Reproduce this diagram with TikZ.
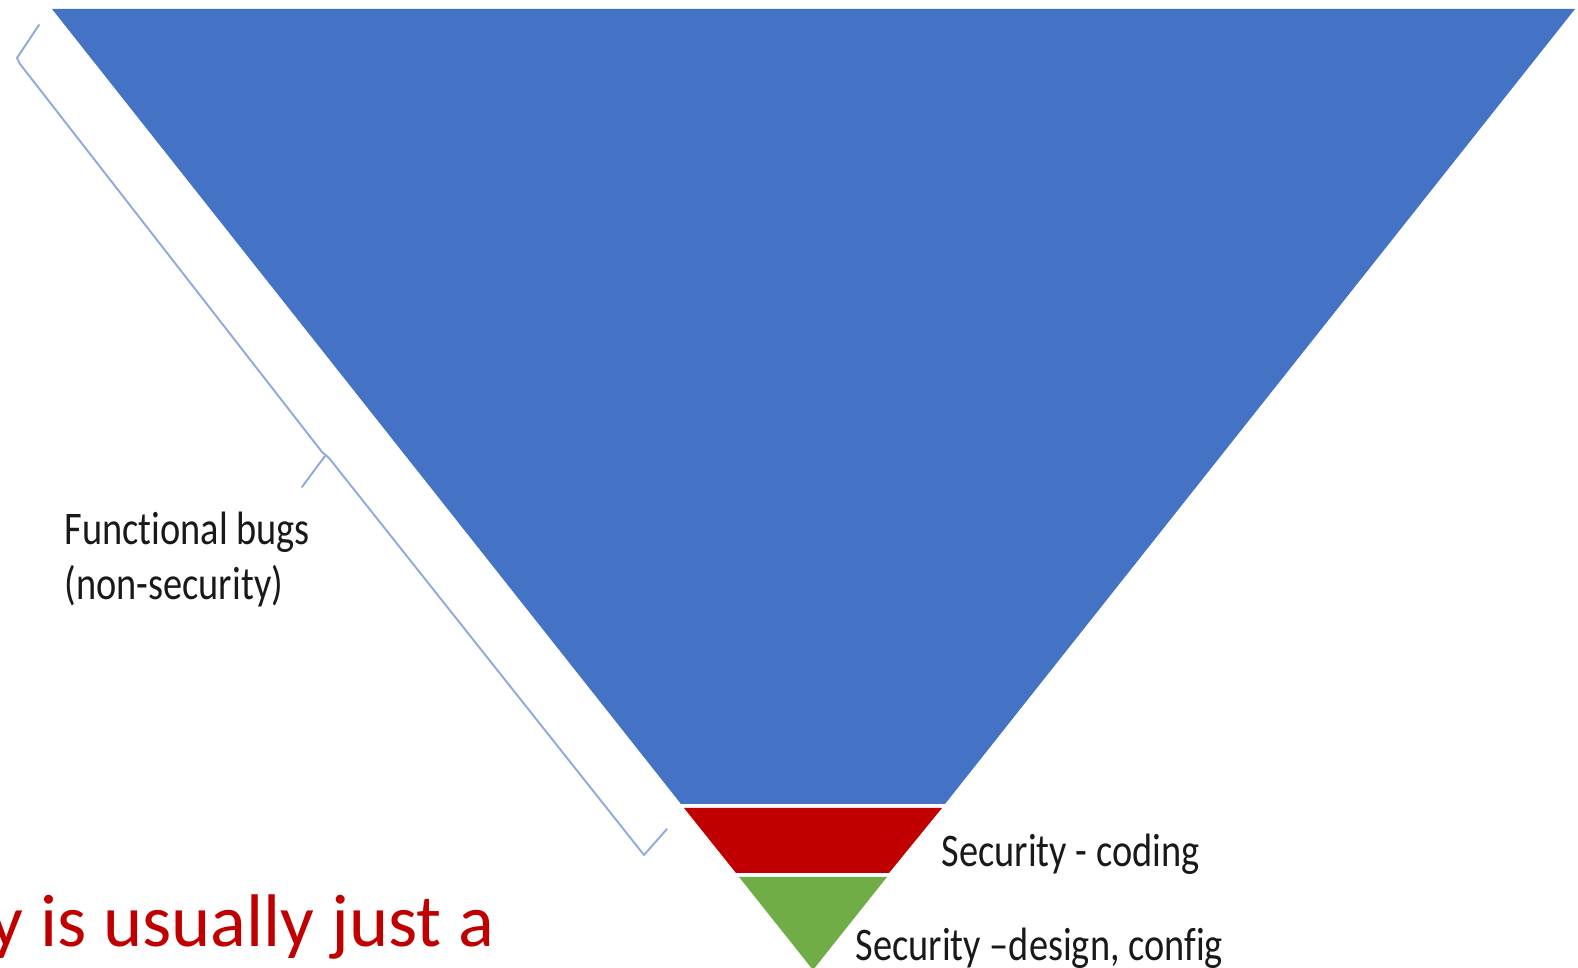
\documentclass[tikz,border=0pt]{standalone}
\usepackage{fontspec}
\setmainfont[Ligatures={NoCommon,NoRare,NoContextual}]{Carlito}
\usepackage{graphicx}
\definecolor{funnelblue}{HTML}{4472C4}
\definecolor{secred}{HTML}{C00000}
\definecolor{secgreen}{HTML}{70AD47}
\definecolor{bracecol}{HTML}{8FAADC}
\newcommand{\narrowtxt}[1]{\scalebox{0.82}[1]{#1}}
\tikzset{
  lbl/.style={anchor=base west, inner sep=0pt, font=\fontsize{13.3}{16}\selectfont, text=black!90},
  bracelin/.style={draw=bracecol, line width=0.55pt, line join=round, line cap=round},
}
\begin{document}
\begin{tikzpicture}[x=0.01cm, y=-0.01cm]
\useasboundingbox (0,0) rectangle (1578,968);
% funnel bands
\fill[funnelblue] (52,9) -- (1575,9) -- (945,804) -- (681,804) -- cycle;
\fill[secred] (684,808) -- (942,808) -- (889,873) -- (736,873) -- cycle;
\fill[secgreen] (739,877) -- (887,877) -- (813,970) -- cycle;
% brace along the left side
\draw[bracelin] (39,25) -- (17,58) -- (20,64) -- (322,452) -- (329,458) -- (644,855) -- (667,829);
\draw[bracelin] (302,487) -- (325,456);
% labels
\node[lbl] (fbugs) at (64,545) {\narrowtxt{Functional bugs}};
\node[lbl] (nonsec) at (64,600) {\narrowtxt{(non-security)}};
\node[lbl] (coding) at (941,867) {\narrowtxt{Security - coding}};
\node[lbl] (design) at (855,961) {\narrowtxt{Security –design, config}};
\node[anchor=base east, inner sep=0pt, text=secred, font=\fontsize{21.2}{25}\selectfont] (slogan) at (495,947) {y is usually just a};
\end{tikzpicture}
\end{document}
